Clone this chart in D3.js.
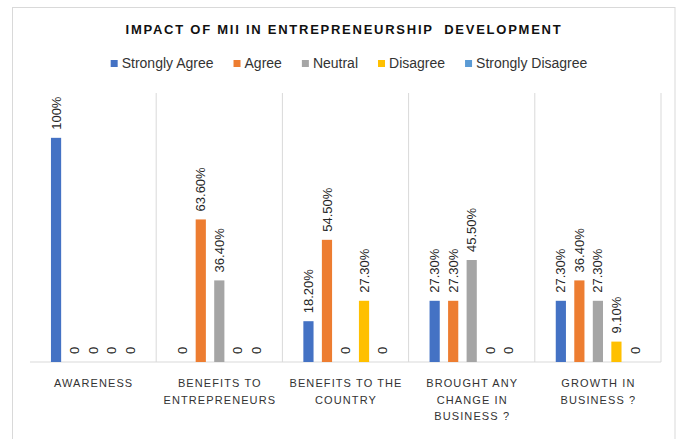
<!DOCTYPE html>
<html>
<head>
<meta charset="utf-8">
<script src="https://cdn.jsdelivr.net/npm/d3@7"></script>
<style>
    body { margin: 0; background: #fff; }
    svg { display: block; font-family: "Liberation Sans", Arial, sans-serif; }
</style>
</head>
<body>
<svg id="chart"></svg>
<script>
// categories (tick labels split on \n) and one array per series
const categories = [
    "AWARENESS",
    "BENEFITS TO\nENTREPRENEURS",
    "BENEFITS TO THE\nCOUNTRY",
    "BROUGHT ANY\nCHANGE IN\nBUSINESS ?",
    "GROWTH IN\nBUSINESS ?"
];
const seriesNames = ["Strongly Agree", "Agree", "Neutral", "Disagree", "Strongly Disagree"];
const seriesColors = ["#4472C4", "#ED7D31", "#A5A5A5", "#FFC000", "#5B9BD5"];
const stronglyAgree = [100, 0, 18.2, 27.3, 27.3];
const agree = [0, 63.6, 54.5, 27.3, 36.4];
const neutral = [0, 36.4, 0, 45.5, 27.3];
const disagree = [0, 0, 27.3, 0, 9.1];
const stronglyDisagree = [0, 0, 0, 0, 0];
const title = "IMPACT OF MII IN ENTREPRENEURSHIP  DEVELOPMENT";

const seriesValues = [stronglyAgree, agree, neutral, disagree, stronglyDisagree];

const width = 679, height = 439;
const plot = { left: 30, right: 661, top: 93, bottom: 362 };

const svg = d3.select("#chart")
    .attr("width", width)
    .attr("height", height);

// outer chart frame
svg.append("rect")
    .attr("x", 12.5).attr("y", 7.5)
    .attr("width", 662.5).attr("height", 445)
    .attr("fill", "#fff")
    .attr("stroke", "#d9d9d9");

svg.append("text")
    .attr("x", 344).attr("y", 34)
    .attr("text-anchor", "middle")
    .attr("font-size", "13px")
    .attr("font-weight", "bold")
    .attr("letter-spacing", "1.75px")
    .attr("fill", "#111")
    .style("white-space", "pre")
    .text(title);

// legend, laid out by measured text widths and centred
let legend = svg.append("g");
let lx = 0;
let gap = 20;
seriesNames.forEach((name, i) => {
    let item = legend.append("g").attr("transform", `translate(${lx}, 0)`);
    item.append("rect")
        .attr("x", 0).attr("y", 60)
        .attr("width", 7).attr("height", 7)
        .attr("fill", seriesColors[i]);
    let t = item.append("text")
        .attr("x", 11)
        .attr("y", 68.3)
        .attr("font-size", "14px")
        .attr("fill", "#333")
        .text(name);
    lx += 11 + t.node().getComputedTextLength() + gap;
});
let legendWidth = lx - gap;
legend.attr("transform", `translate(${349 - legendWidth / 2}, 0)`);

const x0 = d3.scaleBand()
    .domain(categories)
    .range([plot.left, plot.right])
    .paddingInner(0.2)
    .paddingOuter(0.1);

const x1 = d3.scaleBand()
    .domain(seriesNames)
    .range([0, x0.bandwidth()])
    .paddingInner(0.45)
    .paddingOuter(0.45);

const y = d3.scaleLinear()
    .domain([0, 120])
    .range([plot.bottom, plot.top]);

// category separators
svg.append("g")
    .selectAll("line")
    .data(categories)
    .join("line")
    .attr("x1", d => x0(d) + x0.bandwidth() + x0.step() * 0.1)
    .attr("x2", d => x0(d) + x0.bandwidth() + x0.step() * 0.1)
    .attr("y1", plot.top)
    .attr("y2", plot.bottom)
    .attr("stroke", "#d9d9d9");

svg.append("line")
    .attr("x1", plot.left).attr("x2", plot.right)
    .attr("y1", plot.bottom).attr("y2", plot.bottom)
    .attr("stroke", "#d9d9d9");

let rows = [];
categories.forEach((c, ci) => {
    seriesNames.forEach((s, si) => {
        rows.push({ cat: c, series: s, value: seriesValues[si][ci], color: seriesColors[si] });
    });
});

let fmt = v => v === 0 ? "0" : v === 100 ? "100%" : v.toFixed(2) + "%";

svg.append("g")
    .selectAll("rect")
    .data(rows)
    .join("rect")
    .attr("x", d => x0(d.cat) + x1(d.series))
    .attr("y", d => y(d.value))
    .attr("width", x1.bandwidth())
    .attr("height", d => y(0) - y(d.value))
    .attr("fill", d => d.color);

svg.append("g")
    .selectAll("text")
    .data(rows)
    .join("text")
    .attr("transform", d => `translate(${x0(d.cat) + x1(d.series) + x1.bandwidth() / 2}, ${y(d.value) - 8}) rotate(-90)`)
    .attr("dy", "0.35em")
    .attr("font-size", "13px")
    .attr("fill", "#262626")
    .text(d => fmt(d.value));

// category axis labels
let axis = svg.append("g")
    .attr("transform", `translate(0, ${plot.bottom})`)
    .call(d3.axisBottom(x0).tickSize(0).tickPadding(0));
axis.select(".domain").remove();
axis.selectAll("text")
    .attr("font-family", "Liberation Sans, Arial, sans-serif")
    .attr("font-size", "11px")
    .attr("letter-spacing", "1.1px")
    .attr("fill", "#333")
    .attr("y", 0).attr("dy", null)
    .each(function (d) {
        let t = d3.select(this).text(null);
        d.split("\n").forEach((line, i) => {
            t.append("tspan")
                .attr("x", 0.5)
                .attr("y", 25.3 + i * 16.3)
                .text(line);
        });
    });
</script>
</body>
</html>
